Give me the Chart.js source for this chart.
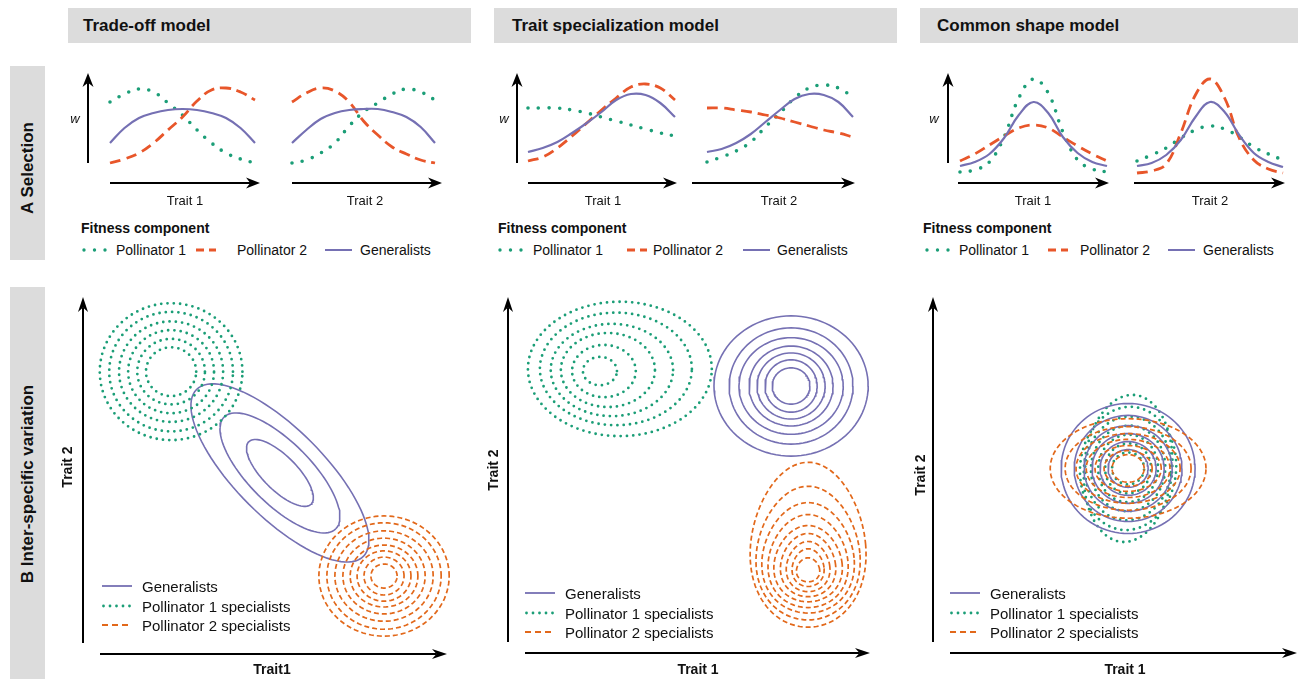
<!DOCTYPE html>
<html>
<head>
<meta charset="utf-8">
<script src="https://cdn.jsdelivr.net/npm/chart.js@4.4.1/dist/chart.umd.min.js"></script>
<style>
    body { margin: 0; background: #fff; font-family: "Liberation Sans", Arial, sans-serif; color: #111; }
    #page { position: relative; width: 1298px; height: 679px; overflow: hidden; }
    .abs { position: absolute; white-space: nowrap; }
    .head { background: #dcdcdc; font-weight: bold; font-size: 17px; line-height: 35px; height: 35px; box-sizing: border-box; }
    .rowbox { background: #dcdcdc; }
    .rot { transform: translate(-50%, -50%) rotate(-90deg); font-weight: bold; }
    .mid { transform: translate(-50%, -50%); }
    .left { transform: translateY(-50%); }
    canvas { position: absolute; }
</style>
</head>
<body>
<div id="page"></div>
<script>
// ---- Row A: selection curves, sampled along each trait ----
const TRAIT_STEPS = [0, 0.1, 0.2, 0.3, 0.4, 0.5, 0.6, 0.7, 0.8, 0.9, 1];

const tradeoffT1Poll1 = [81, 89, 94, 91, 80, 68, 53, 40, 30, 24, 20];
const tradeoffT1Poll2 = [20, 24, 30, 40, 53, 66, 82, 93, 95, 91, 83];
const tradeoffT1Gen   = [40, 55, 65, 70, 73, 74, 73, 70, 65, 55, 40];
const tradeoffT2Poll1 = [20, 23, 30, 40, 57, 71, 80, 89, 94, 91, 83];
const tradeoffT2Poll2 = [81, 90, 95, 92, 81, 62, 48, 36, 29, 23, 20];
const tradeoffT2Gen   = [40, 53, 64, 70, 73, 74, 74, 71, 66, 56, 40];

const specT1Poll1 = [75, 75, 75, 73, 70, 66, 62, 58, 54, 50, 47];
const specT1Poll2 = [22, 26, 35, 47, 60, 73, 85, 96, 99, 95, 83];
const specT1Gen   = [31, 35, 41, 50, 60, 71, 83, 89, 88, 80, 66];
const specT2Poll1 = [21, 26, 32, 41, 56, 70, 85, 95, 98, 95, 86];
const specT2Poll2 = [75, 75, 73, 71, 68, 65, 61, 57, 53, 50, 46];
const specT2Gen   = [31, 34, 40, 49, 61, 73, 84, 89, 88, 81, 66];

const shapeT1Poll1 = [11, 13, 21, 46, 85, 104, 90, 51, 23, 14, 11];
const shapeT1Poll2 = [22, 29, 38, 47, 55, 58, 55, 46, 37, 29, 22];
const shapeT1Gen   = [17, 21, 29, 45, 68, 81, 70, 46, 30, 21, 17];
const shapeT2Poll1 = [22, 28, 35, 45, 53, 57, 54, 46, 36, 29, 23];
const shapeT2Poll2 = [10, 12, 19, 50, 88, 104, 85, 45, 23, 14, 10];
const shapeT2Gen   = [17, 20, 28, 43, 66, 81, 71, 48, 30, 21, 16];

// ---- Row B: density contours (trait units), one entry per ring ----
const toP1Cx = 2.42, toP1Cy = 7.75;
const toP1Rx = [0.69, 0.93, 1.18, 1.43, 1.70, 1.96];
const toP1Ry = [0.67, 0.90, 1.14, 1.38, 1.64, 1.88];
const toP2Cx = 8.27, toP2Cy = 2.14;
const toP2Rx = [0.36, 0.55, 0.74, 0.93, 1.13, 1.35, 1.57, 1.79];
const toP2Ry = [0.33, 0.52, 0.69, 0.85, 1.04, 1.24, 1.46, 1.65];
const toGenCx = 5.41, toGenCy = 4.97, toGenAngle = -45;
const toGenRx = [1.21, 2.17, 3.24];
const toGenRy = [0.47, 0.85, 1.21];

const spP1Cx = [2.54, 2.65, 2.76, 2.87, 2.98, 3.09];
const spP1Cy = [7.76, 7.76, 7.79, 7.79, 7.82, 7.82];
const spP1Rx = [0.47, 0.88, 1.30, 1.69, 2.10, 2.54];
const spP1Ry = [0.39, 0.72, 1.02, 1.27, 1.55, 1.85];
const spGenCx = 7.82, spGenCy = 7.35;
const spGenRx = [0.52, 0.72, 0.94, 1.16, 1.44, 1.71, 2.13];
const spGenRy = [0.50, 0.72, 0.91, 1.10, 1.33, 1.60, 1.93];
const spP2Cx = 8.29;
const spP2Cy = [2.29, 2.35, 2.38, 2.42, 2.46, 2.53, 2.62, 2.75, 2.98];
const spP2Rx = [0.32, 0.44, 0.60, 0.76, 0.94, 1.10, 1.27, 1.43, 1.59];
const spP2Ry = [0.33, 0.52, 0.69, 0.87, 1.05, 1.28, 1.52, 1.84, 2.27];
const spP2Egg = 0.12;

const csCx = 5.36, csCy = 5.08;
const csGenRx = [0.55, 0.77, 0.99, 1.21, 1.48, 1.84];
const csGenRy = [0.52, 0.74, 0.96, 1.18, 1.46, 1.79];
const csP1Rx = [0.44, 0.63, 0.82, 1.02, 1.18, 1.32, 1.21];
const csP1Ry = [0.44, 0.69, 0.93, 1.18, 1.43, 1.70, 2.03];
const csP1Angle = -5;
const csP2Rx = [0.44, 0.66, 0.91, 1.15, 1.43, 1.73, 2.14];
const csP2Ry = [0.38, 0.49, 0.63, 0.80, 0.96, 1.15, 1.37];

const GREEN = '#1b9e77';
const ORANGE_A = '#e8562a';
const ORANGE_B = '#e2681a';
const PURPLE = '#7570b3';

const page = document.getElementById('page');

function place(html, cls, left, top, style) {
    const el = document.createElement('div');
    el.className = 'abs ' + cls;
    el.style.left = left + 'px';
    el.style.top = top + 'px';
    Object.assign(el.style, style || {});
    el.innerHTML = html;
    page.appendChild(el);
    return el;
}

function drawArrow(ctx, x0, y0, x1, y1, head) {
    const ang = Math.atan2(y1 - y0, x1 - x0);
    const L = head.len, W = head.half;
    ctx.beginPath();
    ctx.moveTo(x0, y0);
    ctx.lineTo(x1 - Math.cos(ang) * L * 0.7, y1 - Math.sin(ang) * L * 0.7);
    ctx.stroke();
    ctx.save();
    ctx.translate(x1, y1);
    ctx.rotate(ang);
    ctx.beginPath();
    ctx.moveTo(0, 0);
    ctx.lineTo(-L, -W);
    ctx.lineTo(-L * 0.7, 0);
    ctx.lineTo(-L, W);
    ctx.closePath();
    ctx.fill();
    ctx.restore();
}

// black arrow axes, placed relative to the chart area
const arrowAxes = {
    id: 'arrowAxes',
    afterDraw(chart, args, opts) {
        const { ctx, chartArea: a } = chart;
        ctx.save();
        ctx.strokeStyle = '#000';
        ctx.fillStyle = '#000';
        ctx.lineWidth = opts.width;
        if (opts.x) {
            drawArrow(ctx, a.left + opts.x.from, a.bottom, a.right + opts.x.to, a.bottom, opts.head);
        }
        if (opts.y) {
            const x = a.left + opts.y.dx;
            drawArrow(ctx, x, a.bottom - opts.y.from, x, a.top, opts.head);
        }
        ctx.restore();
    },
};

function makeCanvas(left, top, width, height) {
    const c = document.createElement('canvas');
    c.width = width;
    c.height = height;
    c.style.left = left + 'px';
    c.style.top = top + 'px';
    c.style.width = width + 'px';
    c.style.height = height + 'px';
    page.appendChild(c);
    return c;
}

function curve(values, color, kind) {
    const ds = {
        data: values,
        borderColor: color,
        pointRadius: 0,
        tension: 0.4,
        clip: false,
        fill: false,
    };
    if (kind === 'dot') {
        ds.borderWidth = 3.6;
        ds.borderDash = [0, 10.5];
        ds.borderCapStyle = 'round';
    } else if (kind === 'dash') {
        ds.borderWidth = 2.8;
        ds.borderDash = [11, 6];
    } else {
        ds.borderWidth = 2.2;
    }
    return ds;
}

function selectionChart(areaLeft, areaRight, poll1, poll2, gen, xArrow, yArrow) {
    const pad = { left: 30, right: 20, top: 10, bottom: 10 };
    const canvas = makeCanvas(areaLeft - pad.left, 73 - pad.top, areaRight - areaLeft + pad.left + pad.right, 110 + pad.top + pad.bottom);
    new Chart(canvas, {
        type: 'line',
        data: {
            labels: TRAIT_STEPS,
            datasets: [curve(gen, PURPLE, 'solid'), curve(poll2, ORANGE_A, 'dash'), curve(poll1, GREEN, 'dot')],
        },
        options: {
            responsive: false,
            animation: false,
            devicePixelRatio: 1,
            layout: { padding: pad },
            plugins: {
                legend: { display: false },
                tooltip: { enabled: false },
                arrowAxes: { x: xArrow, y: yArrow, width: 2, head: { len: 14, half: 5.5 } },
            },
            scales: {
                x: { display: false, offset: false },
                y: { display: false, min: 0, max: 110 },
            },
        },
        plugins: [arrowAxes],
    });
}

function ringPoints(cx, cy, rx, ry, angleDeg, egg) {
    const th = (angleDeg || 0) * Math.PI / 180;
    const pts = [];
    for (let k = 0; k <= 96; k++) {
        const t = (k / 96) * 2 * Math.PI;
        const ex = rx * Math.cos(t) * (1 - (egg || 0) * Math.sin(t)), ey = ry * Math.sin(t);
        pts.push({ x: cx + ex * Math.cos(th) - ey * Math.sin(th), y: cy + ex * Math.sin(th) + ey * Math.cos(th) });
    }
    return pts;
}

function rings(cx, cy, rxs, rys, angle, color, kind, egg) {
    return rxs.map((rx, i) => {
        const x = Array.isArray(cx) ? cx[i] : cx;
        const y = Array.isArray(cy) ? cy[i] : cy;
        const ds = {
            data: ringPoints(x, y, rx, rys[i], angle, egg),
            showLine: true,
            borderColor: color,
            pointRadius: 0,
            tension: 0,
            clip: false,
        };
        if (kind === 'dot') {
            ds.borderWidth = 2.8;
            ds.borderDash = [0, 6.3];
            ds.borderCapStyle = 'round';
        } else if (kind === 'dash') {
            ds.borderWidth = 1.7;
            ds.borderDash = [5, 3];
        } else {
            ds.borderWidth = 1.6;
        }
        return ds;
    });
}

function contourChart(left, right, top, bottom, datasets) {
    const pad = 20;
    const canvas = makeCanvas(left - pad, top - pad, right - left + 2 * pad, bottom - top + 2 * pad);
    new Chart(canvas, {
        type: 'scatter',
        data: { datasets },
        options: {
            responsive: false,
            animation: false,
            devicePixelRatio: 1,
            layout: { padding: pad },
            plugins: {
                legend: { display: false },
                tooltip: { enabled: false },
                arrowAxes: { x: { from: 17, to: 0 }, y: { dx: 0, from: 11 }, width: 2, head: { len: 15, half: 5 } },
            },
            scales: {
                x: { display: false, min: 0, max: 10 },
                y: { display: false, min: 0, max: 9.8 },
            },
        },
        plugins: [arrowAxes],
    });
}

// ---- frame: column headers and row labels ----
place('Trade-off model', 'head', 68, 8, { width: '403px', paddingLeft: '15px' });
place('Trait specialization model', 'head', 494, 8, { width: '403px', paddingLeft: '18px' });
place('Common shape model', 'head', 920, 8, { width: '378px', paddingLeft: '17px' });
place('', 'rowbox', 10, 66, { width: '35px', height: '194px' });
place('', 'rowbox', 10, 287, { width: '35px', height: '392px' });
place('A Selection', 'rot', 28, 168, { fontSize: '17px' });
place('B Inter-specific variation', 'rot', 28, 484, { fontSize: '17px' });

// ---- row A charts ----
selectionChart(110, 255, tradeoffT1Poll1, tradeoffT1Poll2, tradeoffT1Gen, { from: 0, to: 5 }, { dx: -22, from: 20 });
selectionChart(292, 435, tradeoffT2Poll1, tradeoffT2Poll2, tradeoffT2Gen, { from: 0, to: 7 }, null);
selectionChart(528, 675, specT1Poll1, specT1Poll2, specT1Gen, { from: 0, to: 2 }, { dx: -11, from: 20 });
selectionChart(707, 853, specT2Poll1, specT2Poll2, specT2Gen, { from: -15, to: 2 }, null);
selectionChart(960, 1107, shapeT1Poll1, shapeT1Poll2, shapeT1Gen, { from: -2, to: 2 }, { dx: -12, from: 20 });
selectionChart(1137, 1283, shapeT2Poll1, shapeT2Poll2, shapeT2Gen, { from: -3, to: 2 }, null);

[[185, 'Trait 1'], [365, 'Trait 2'], [603, 'Trait 1'], [779, 'Trait 2'], [1033, 'Trait 1'], [1210, 'Trait 2']]
    .forEach(([x, t]) => place(t, 'mid', x, 200, { fontSize: '13px' }));
[75, 504, 934].forEach((x) => place('w', 'mid', x, 118, { fontSize: '13px', fontStyle: 'italic' }));

function symbolA(kind, w) {
    let line;
    if (kind === 'dot') line = `<line x1="2" y1="5" x2="${w}" y2="5" stroke="${GREEN}" stroke-width="3.4" stroke-dasharray="0 10.5" stroke-linecap="round"/>`;
    else if (kind === 'dash') line = `<line x1="0" y1="5" x2="${w}" y2="5" stroke="${ORANGE_A}" stroke-width="2.8" stroke-dasharray="8 5"/>`;
    else line = `<line x1="0" y1="5" x2="${w}" y2="5" stroke="${PURPLE}" stroke-width="2"/>`;
    return `<svg width="${w + 2}" height="10" style="display:block">${line}</svg>`;
}

const legendA = [
    { x: 81, items: [[82, 116, 'dot'], [196, 237, 'dash'], [325, 360, 'solid']] },
    { x: 498, items: [[498, 533, 'dot'], [627, 653, 'dash'], [743, 777, 'solid']] },
    { x: 923, items: [[925, 959, 'dot'], [1048, 1080, 'dash'], [1168, 1203, 'solid']] },
];
const legendANames = { dot: 'Pollinator 1', dash: 'Pollinator 2', solid: 'Generalists' };
legendA.forEach((g) => {
    place('Fitness component', 'left', g.x, 228, { fontSize: '14px', fontWeight: 'bold' });
    g.items.forEach(([sx, tx, kind]) => {
        const w = kind === 'dot' ? 24 : kind === 'dash' ? 20 : 27;
        place(symbolA(kind, w), 'left', sx, 250, {});
        place(legendANames[kind], 'left', tx, 250, { fontSize: '14px' });
    });
});

// ---- row B charts ----
contourChart(83, 447, 297, 654, [
    ...rings(toP1Cx, toP1Cy, toP1Rx, toP1Ry, 0, GREEN, 'dot'),
    ...rings(toP2Cx, toP2Cy, toP2Rx, toP2Ry, 0, ORANGE_B, 'dash'),
    ...rings(toGenCx, toGenCy, toGenRx, toGenRy, toGenAngle, PURPLE, 'solid'),
]);
contourChart(508, 870, 297, 653, [
    ...rings(spP1Cx, spP1Cy, spP1Rx, spP1Ry, 0, GREEN, 'dot'),
    ...rings(spGenCx, spGenCy, spGenRx, spGenRy, 0, PURPLE, 'solid'),
    ...rings(spP2Cx, spP2Cy, spP2Rx, spP2Ry, 0, ORANGE_B, 'dash', spP2Egg),
]);
contourChart(933, 1297, 297, 653, [
    ...rings(csCx, csCy, csP2Rx, csP2Ry, 0, ORANGE_B, 'dash'),
    ...rings(csCx, csCy, csGenRx, csGenRy, 0, PURPLE, 'solid'),
    ...rings(csCx, csCy, csP1Rx, csP1Ry, csP1Angle, GREEN, 'dot'),
]);

place('Trait1', 'mid', 272, 669, { fontSize: '14px', fontWeight: 'bold' });
place('Trait 1', 'mid', 698, 669, { fontSize: '14px', fontWeight: 'bold' });
place('Trait 1', 'mid', 1125, 669, { fontSize: '14px', fontWeight: 'bold' });
place('Trait 2', 'rot', 67, 467, { fontSize: '14px' });
place('Trait 2', 'rot', 493, 470, { fontSize: '14px' });
place('Trait 2', 'rot', 920, 475, { fontSize: '14px' });

function symbolB(kind) {
    let line;
    if (kind === 'solid') line = `<line x1="0" y1="5" x2="30" y2="5" stroke="${PURPLE}" stroke-width="1.8"/>`;
    else if (kind === 'dot') line = `<line x1="1.5" y1="5" x2="30" y2="5" stroke="${GREEN}" stroke-width="2.8" stroke-dasharray="0 6.5" stroke-linecap="round"/>`;
    else line = `<line x1="0" y1="5" x2="30" y2="5" stroke="${ORANGE_B}" stroke-width="1.8" stroke-dasharray="6 4"/>`;
    return `<svg width="32" height="10" style="display:block">${line}</svg>`;
}

const legendBNames = [['solid', 'Generalists'], ['dot', 'Pollinator 1 specialists'], ['dash', 'Pollinator 2 specialists']];
[[102, 142, 586], [525, 565, 593], [950, 990, 593]].forEach(([sx, tx, y0]) => {
    legendBNames.forEach(([kind, name], i) => {
        const y = y0 + i * 19.5;
        place(symbolB(kind), 'left', sx, y, {});
        place(name, 'left', tx, y, { fontSize: '15px' });
    });
});
</script>
</body>
</html>
